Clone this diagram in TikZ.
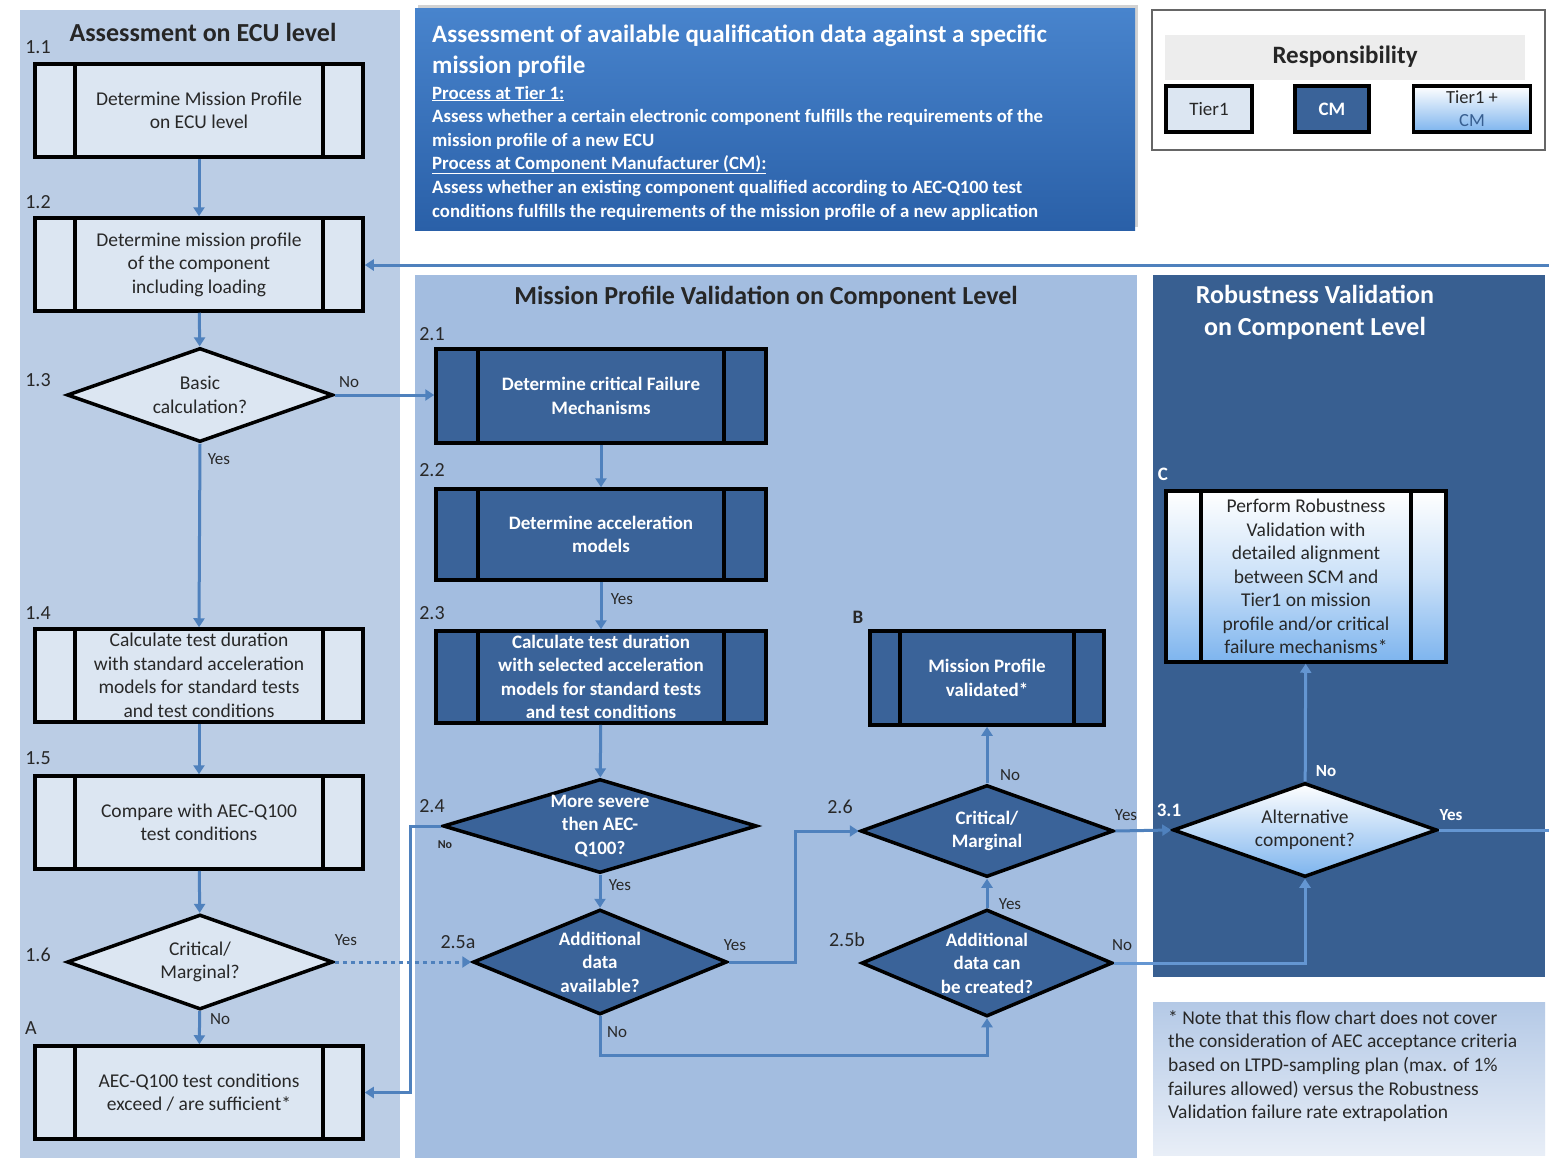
\documentclass[tikz,border=0pt]{standalone}
\usepackage{fontspec}
\setmainfont{Carlito}
\usetikzlibrary{shapes.geometric,arrows.meta,shadows}
\definecolor{lpanel}{RGB}{187,205,229}
\definecolor{mpanel}{RGB}{163,189,224}
\definecolor{rpanel}{RGB}{56,95,145}
\definecolor{tierfill}{RGB}{220,230,242}
\definecolor{cmfill}{RGB}{58,99,153}
\definecolor{linkcol}{RGB}{79,129,189}
\definecolor{linklight}{RGB}{100,150,210}
\definecolor{txtdark}{RGB}{40,40,40}
\definecolor{gradblue}{RGB}{125,180,238}
\begin{document}
\begin{tikzpicture}[x=1pt,y=-1pt,
  every node/.style={font=\fontsize{19.5}{23.5}\selectfont, text=txtdark, inner sep=0pt},
  proc/.style={draw=black, line width=3.5pt, align=center,
    path picture={\draw[black,line width=3.5pt]
      ([xshift=#1]path picture bounding box.north west) -- ([xshift=#1]path picture bounding box.south west)
      ([xshift=-#1]path picture bounding box.north east) -- ([xshift=-#1]path picture bounding box.south east);}},
  tier/.style={proc={#1}, fill=tierfill},
  cmbox/.style={proc={#1}, fill=cmfill, text=white, font=\bfseries\fontsize{19}{23.5}\selectfont},
  both/.style={proc={#1}, top color=white, bottom color=gradblue, middle color=white!60!gradblue},
  dia/.style={diamond, draw=black, line width=3.5pt, inner sep=0pt},
  dtxt/.style={align=center},
  dtxtw/.style={align=center, text=white, font=\bfseries\fontsize{19}{23.5}\selectfont},
  link/.style={draw=linkcol, line width=3pt, -{Triangle[length=9pt,width=11pt]}},
  linkd/.style={draw=linklight, line width=3pt, -{Triangle[length=9pt,width=11pt]}},
  lab/.style={font=\fontsize{17}{20}\selectfont, text=txtdark},
  labw/.style={font=\bfseries\fontsize{17}{20}\selectfont, text=white},
  stepnum/.style={font=\fontsize{20}{22}\selectfont, text=txtdark},
  sect/.style={font=\bfseries\fontsize{26}{32}\selectfont, text=black!85, align=center},
  tbody/.style={anchor=base west, text=white, font=\bfseries\fontsize{18.8}{22}\selectfont},
]
\useasboundingbox (0,0) rectangle (1549,1159);
\fill[white] (0,0) rectangle (1549,1159);

% panels
\fill[lpanel] (20,10) rectangle (400,1158);
\fill[mpanel] (415,275) rectangle (1137,1158);
\fill[rpanel] (1153,275) rectangle (1545,977);
\shade[top color={rgb,255:red,180;green,201;blue,230}, bottom color={rgb,255:red,232;green,238;blue,247}] (1153,1002) rectangle (1545,1155);

% title box
\shade[top color={rgb,255:red,72;green,132;blue,205}, bottom color={rgb,255:red,42;green,96;blue,168}, drop shadow={opacity=0.35, shadow xshift=3pt, shadow yshift=3pt}] (415,8) rectangle (1135,230);
\node[tbody, font=\bfseries\fontsize{25}{28}\selectfont] (tt1) at (432,42) {Assessment of available qualification data against a specific};
\node[tbody, font=\bfseries\fontsize{25}{28}\selectfont] (tt2) at (432,73) {mission profile};
\node[tbody] (tt3) at (432,99) {\underline{Process at Tier 1:}};
\node[tbody] (tt4) at (432,122) {Assess whether a certain electronic component  fulfills the requirements of the};
\node[tbody] (tt5) at (432,146) {mission profile of a new ECU};
\node[tbody] (tt6) at (432,169) {\underline{Process at Component  Manufacturer  (CM):}};
\node[tbody] (tt7) at (432,193) {Assess whether an existing component  qualified according to AEC-Q100 test};
\node[tbody] (tt8) at (432,217) {conditions fulfills the requirements of the mission profile of a new application};

% legend
\draw[black!60, line width=1.5pt] (1152,10) rectangle (1545,150);
\fill[black!7] (1165,35) rectangle (1525,80);
\node[font=\bfseries\fontsize{25}{28}\selectfont, text=black!85] (resp) at (1345,57) {Responsibility};
\node[draw=black, line width=3.5pt, fill=tierfill, minimum width=86pt, minimum height=46pt, font=\fontsize{19}{22}\selectfont] (lt1) at (1209,109) {Tier1};
\node[draw=black, line width=3.5pt, fill=cmfill, minimum width=74pt, minimum height=46pt, text=white, font=\bfseries\fontsize{19}{22}\selectfont] (lcm) at (1332,109) {CM};
\node[draw=black, line width=3.5pt, top color=white, bottom color=gradblue, minimum width=117pt, minimum height=46pt, align=center, font=\fontsize{18.5}{23}\selectfont] (lboth) at (1472,109) {Tier1 +\\\textcolor{rpanel}{CM}};

% section titles
\node[sect] (s1) at (203,32) {Assessment on ECU level};
\node[sect] (s2) at (766,297) {Mission Profile Validation on Component Level};
\node[sect, text=white] (s3) at (1315,312) {Robustness Validation\\on Component Level};

% left column
\node[tier=40pt, minimum width=328pt, minimum height=93pt] (b11) at (199,110.5) {Determine Mission Profile\\on ECU level};
\node[tier=40pt, minimum width=328pt, minimum height=93pt] (b12) at (199,264.5) {Determine mission profile\\of the component\\including loading};
\node[dia, minimum width=266pt, minimum height=94pt, fill=tierfill] (d13) at (200,395) {};
\node[dtxt] (t13) at (d13) {Basic\\calculation?};
\node[tier=40pt, minimum width=328pt, minimum height=93pt] (b14) at (199,675.5) {Calculate test duration\\with standard acceleration\\models for standard tests\\and test conditions};
\node[tier=40pt, minimum width=328pt, minimum height=93pt] (b15) at (199,822.5) {Compare with AEC-Q100\\test conditions};
\node[dia, minimum width=266pt, minimum height=95pt, fill=tierfill] (d16) at (200,962) {};
\node[dtxt] (t16) at (d16) {Critical/\\Marginal?};
\node[tier=40pt, minimum width=328pt, minimum height=93pt] (bA) at (199,1092.5) {AEC-Q100 test  conditions\\exceed / are sufficient*};

% middle column
\node[cmbox=42pt, minimum width=330pt, minimum height=94pt] (b21) at (601,396) {Determine critical Failure\\Mechanisms};
\node[cmbox=42pt, minimum width=330pt, minimum height=91pt] (b22) at (601,534.5) {Determine acceleration\\models};
\node[cmbox=42pt, minimum width=330pt, minimum height=92pt] (b23) at (601,677) {Calculate test duration\\with selected acceleration\\models for standard tests\\and test conditions};
\node[dia, minimum width=314pt, minimum height=94pt, fill=cmfill] (d24) at (600,826) {};
\node[dtxtw] (t24) at (d24) {More severe\\then AEC-\\Q100?};
\node[dia, minimum width=254pt, minimum height=105pt, fill=cmfill] (d25a) at (600,962) {};
\node[dtxtw] (t25a) at (d25a) {Additional\\data\\available?};
\node[cmbox=30pt, minimum width=234pt, minimum height=94pt] (bB) at (987,678) {Mission Profile\\validated*};
\node[dia, minimum width=253pt, minimum height=92pt, fill=cmfill] (d26) at (987,831) {};
\node[dtxtw] (t26) at (d26) {Critical/\\Marginal};
\node[dia, minimum width=251pt, minimum height=107pt, fill=cmfill] (d25b) at (987,963) {};
\node[dtxtw] (t25b) at (d25b) {Additional\\data  can\\be created?};

% right column
\node[both=35pt, minimum width=280pt, minimum height=171pt] (bC) at (1306,576.5) {Perform Robustness\\Validation with\\detailed alignment\\between SCM and\\Tier1 on mission\\profile and/or critical\\failure mechanisms*};
\node[dia, minimum width=264pt, minimum height=94pt, top color=white, bottom color=gradblue] (d31) at (1305,830) {};
\node[dtxt] (t31) at (d31) {Alternative\\component?};

% note
\node[anchor=north west, align=left, font=\fontsize{19.5}{23.7}\selectfont] (note) at (1168,1010) {* Note that this flow chart does not cover\\the consideration of AEC acceptance criteria\\based on LTPD-sampling plan (max. of 1\%\\failures allowed) versus the Robustness\\Validation failure rate extrapolation};

% step numbers
\node[stepnum] (n11) at (38,47) {1.1};
\node[stepnum] (n12) at (38,202) {1.2};
\node[stepnum] (n13) at (38,380) {1.3};
\node[stepnum] (n14) at (38,613) {1.4};
\node[stepnum] (n15) at (38,758) {1.5};
\node[stepnum] (n16) at (38,955) {1.6};
\node[stepnum] (nA) at (31,1028) {A};
\node[stepnum] (n21) at (432,334) {2.1};
\node[stepnum] (n22) at (432,470) {2.2};
\node[stepnum] (n23) at (432,613) {2.3};
\node[stepnum] (n24) at (432,806) {2.4};
\node[stepnum] (n25a) at (458,942) {2.5a};
\node[stepnum, font=\bfseries\fontsize{19}{20}\selectfont] (nB) at (858,617) {B};
\node[stepnum] (n26) at (840,807) {2.6};
\node[stepnum] (n25b) at (847,940) {2.5b};
\node[stepnum, text=white, font=\bfseries\fontsize{19}{20}\selectfont] (nC) at (1163,474) {C};
\node[stepnum, text=white, font=\bfseries\fontsize{19}{20}\selectfont] (n31) at (1169,810) {3.1};

% connectors
\coordinate (edgeTop) at (1549,265);
\coordinate (edgeR) at (1549,830);
\draw[link] (b11) -- (b12);
\draw[link] (b12) -- (d13);
\draw[link] (d13.south) -- (b14.north);
\draw[link] (d13.east) -- (b21.west |- d13.east);
\draw[link] (b14) -- (b15);
\draw[link] (b15) -- (d16);
\draw[link] (d16) -- (bA);
\draw[link, dash pattern=on 4pt off 4pt] (d16.east) -- (d25a.west);
\draw[link] (b21) -- (b22);
\draw[link] (b22) -- (b23);
\draw[link] (b23) -- (d24);
\draw[link] (d24.west) -- (410,826) -- (410,1092.5) -- (bA.east);
\draw[link] (d24) -- (d25a);
\draw[link] (d25a.east) -- (795,962) -- (795,831) -- (d26.west);
\draw[link] (d25a.south) -- (600,1055) -- (987,1055) -- (d25b.south);
\draw[link] (d25b) -- (d26);
\draw[link] (d26) -- (bB);
\draw[link] (d26.east) -- (d31.west);
\draw[linkd] (d25b.east) -- (1305,963) -- (d31.south);
\draw[linkd] (d31) -- (bC);
\draw[draw=linklight, line width=3pt] (d31.east) -- (edgeR);
\draw[link] (edgeTop) -- (b12.east |- edgeTop);

% connector labels
\node[lab] (l1) at (219,459) {Yes};
\node[lab] (l2) at (349,382) {No};
\node[lab] (l3) at (346,940) {Yes};
\node[lab] (l4) at (220,1019) {No};
\node[lab] (l5) at (622,599) {Yes};
\node[lab, font=\bfseries\fontsize{12}{14}\selectfont] (l6) at (445,845) {No};
\node[lab] (l7) at (620,885) {Yes};
\node[lab] (l8) at (735,945) {Yes};
\node[lab] (l9) at (617,1032) {No};
\node[lab] (l10) at (1010,775) {No};
\node[lab] (l11) at (1126,815) {Yes};
\node[lab] (l12) at (1010,904) {Yes};
\node[lab] (l13) at (1122,945) {No};
\node[labw] (l14) at (1326,771) {No};
\node[labw] (l15) at (1451,815) {Yes};
\end{tikzpicture}
\end{document}
